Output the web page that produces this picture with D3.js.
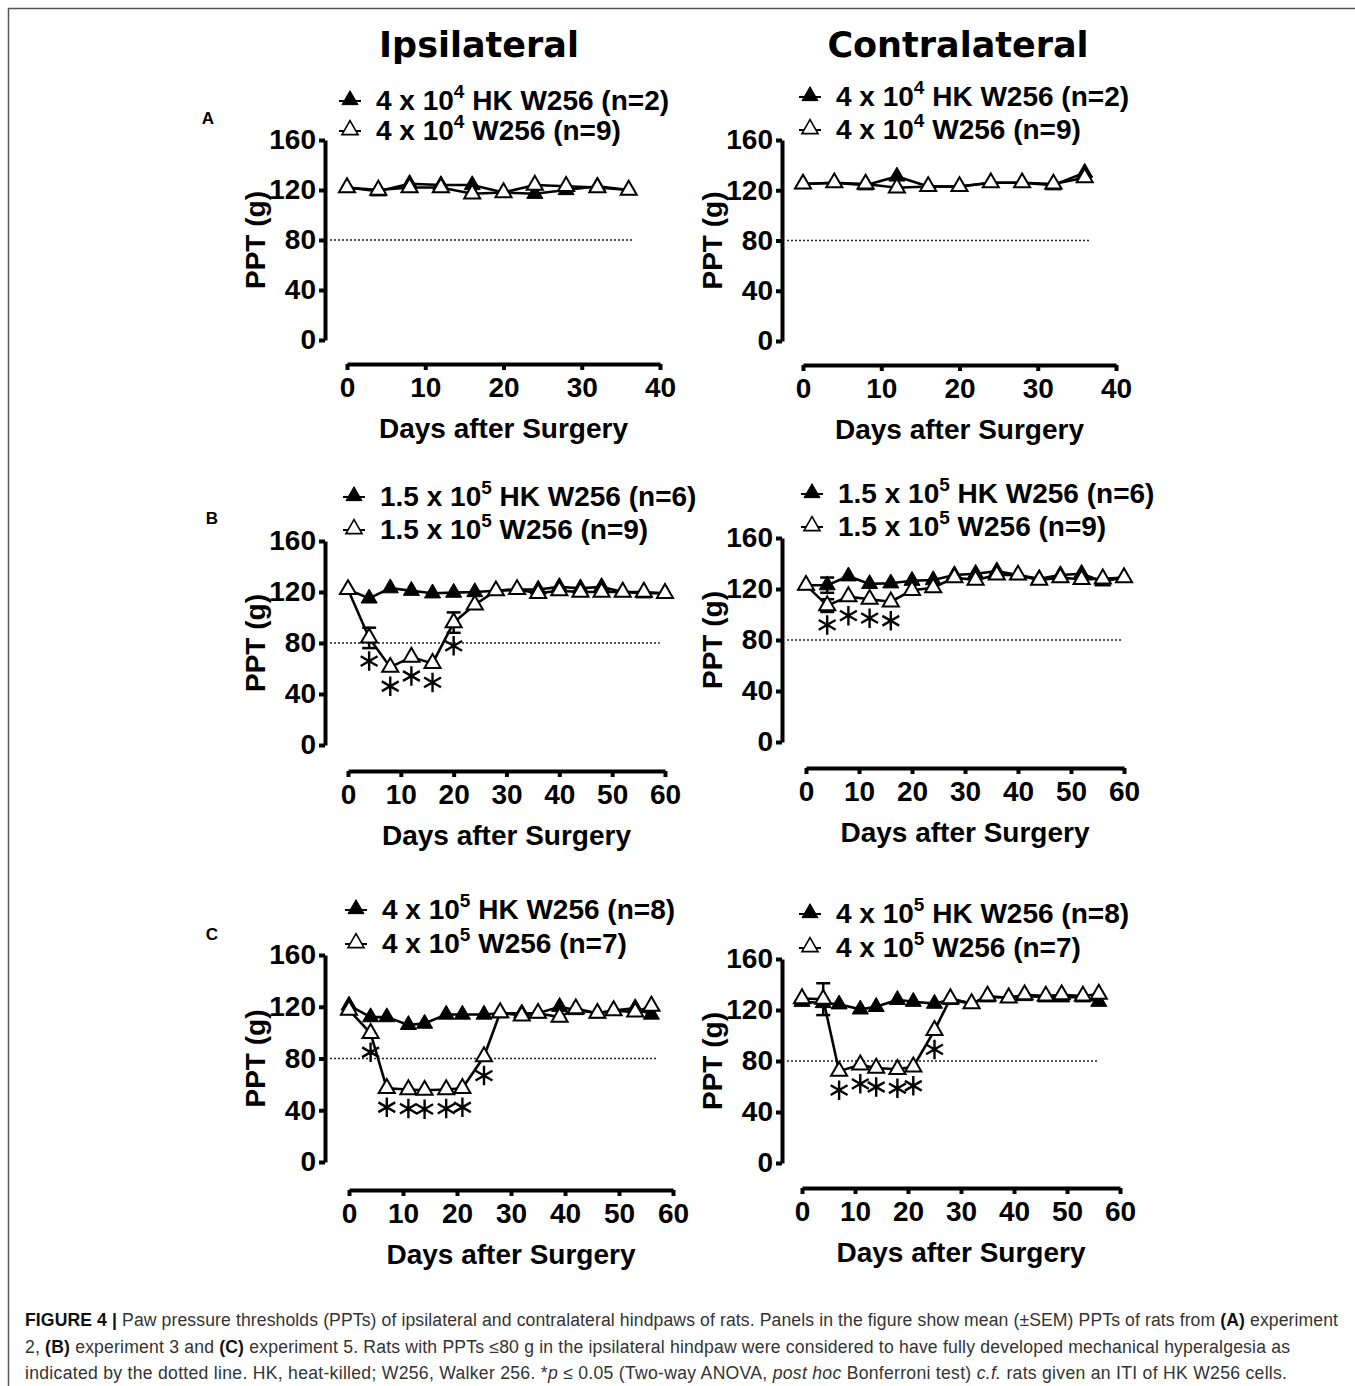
<!DOCTYPE html>
<html>
<head>
<meta charset="utf-8">
<script src="https://cdn.jsdelivr.net/npm/d3@7"></script>
<style>
  body { margin: 0; background: #fff; }
  svg { display: block; }
</style>
</head>
<body>
<svg id="fig" width="1355" height="1386"></svg>
<script>
// ---- data ----
var daysA = [0, 4, 8, 12, 16, 20, 24, 28, 32, 36];
var daysB = [0, 4, 8, 12, 16, 20, 24, 28, 32, 36, 40, 44, 48, 52, 56, 60];
var daysC = [0, 4, 7, 11, 14, 18, 21, 25, 28, 32, 35, 39, 42, 46, 49, 53, 56];

// experiment 2 (A)
var aIpsiHK = [122, 119, 125, 124, 124, 118, 117, 120, 123, 120];
var aIpsiW = [122, 120, 122, 122, 117, 118, 124, 123, 122, 120];
var aContraHK = [125, 126, 124, 131, 123, 123, 126, 126, 124, 134];
var aContraW = [125, 126, 125, 122, 123, 123, 126, 126, 125, 130];

// experiment 3 (B)
var bIpsiHK = [122, 115, 123, 121, 119, 119.5, 120, 121, 122, 122, 124, 123, 124, 120, 119, 119];
var bIpsiW = [122, 84, 61, 69, 64, 96, 110, 121, 122, 119, 121, 120, 120, 120, 120, 119];
var bIpsiWsem = [0, 8, 0, 0, 0, 8, 0, 0, 0, 0, 0, 0, 0, 0, 0, 0];
var bContraHK = [123, 123, 130, 124, 124.5, 126.5, 127, 131, 132, 134, 131, 128, 131, 132, 126, 129];
var bContraHKsem = [0, 6, 0, 0, 0, 0, 0, 0, 0, 0, 0, 0, 0, 0, 0, 0];
var bContraW = [123, 107, 114, 112, 110, 119, 121, 129, 127, 131, 131, 127, 129, 127.5, 128, 129];
var bContraWsem = [0, 5, 0, 0, 0, 0, 0, 0, 0, 0, 0, 0, 0, 0, 0, 0];

// experiment 5 (C)
var cIpsiHK = [121, 112, 112, 106, 107, 114, 114, 114, 115, 115, 115, 120, 117.5, 115, 117, 119, 114];
var cIpsiW = [117.5, 99.5, 57, 56, 55.5, 56, 57, 81.5, 115.5, 113, 115, 112, 118.5, 115, 117, 116, 120.5];
var cContraHK = [126.5, 125.5, 124.5, 120.5, 122.5, 128, 126.5, 125, 128, 125, 130, 130, 131, 130, 130, 130, 126.5];
var cContraW = [129, 128.5, 72, 77, 74.5, 73.5, 75.5, 104, 129, 125, 131, 129.5, 132, 131, 132, 131, 132.5];
var cContraWsem = [0, 12.5, 0, 0, 0, 0, 0, 0, 0, 0, 0, 0, 0, 0, 0, 0, 0];

// days marked * (p <= 0.05 vs HK)
var starsBIpsi = [4, 8, 12, 16, 20];
var starsBContra = [4, 8, 12, 16];
var starsCIpsi = [4, 7, 11, 14, 18, 21, 25];
var starsCContra = [7, 11, 14, 18, 21, 25];

var yTicks = [0, 40, 80, 120, 160];
var xTicksA = [0, 10, 20, 30, 40];
var xTicksBC = [0, 10, 20, 30, 40, 50, 60];
var threshold = 80;

var legA = [["4 x 10", "4", " HK W256 (n=2)"], ["4 x 10", "4", " W256 (n=9)"]];
var legB = [["1.5 x 10", "5", " HK W256 (n=6)"], ["1.5 x 10", "5", " W256 (n=9)"]];
var legC = [["4 x 10", "5", " HK W256 (n=8)"], ["4 x 10", "5", " W256 (n=7)"]];

var sideTitles = ["Ipsilateral", "Contralateral"];
var panelLetters = ["A", "B", "C"];

function zip(days, vals, sem) {
    return days.map(function (d, i) { return { day: d, v: vals[i], sem: sem ? sem[i] : 0 }; });
}

// ---- layout ----
var panels = [
    { days: daysA, hk: aIpsiHK, w: aIpsiW, stars: [], xDomain: [0, 40], xTicks: xTicksA, leg: legA,
      xRange: [347, 660], yRange: [340, 140], xAxisY: 364, yAxisX: 325, legX: 350, legY: [100, 130], dotEnd: 36.6 },
    { days: daysA, hk: aContraHK, w: aContraW, stars: [], xDomain: [0, 40], xTicks: xTicksA, leg: legA,
      xRange: [803, 1116], yRange: [341, 140], xAxisY: 365, yAxisX: 782, legX: 810, legY: [96, 129], dotEnd: 36.7 },
    { days: daysB, hk: bIpsiHK, w: bIpsiW, wsem: bIpsiWsem, stars: starsBIpsi, xDomain: [0, 60], xTicks: xTicksBC, leg: legB,
      xRange: [348, 665], yRange: [745, 541], xAxisY: 771, yAxisX: 325, legX: 354, legY: [496, 529], dotEnd: 59 },
    { days: daysB, hk: bContraHK, hksem: bContraHKsem, w: bContraW, wsem: bContraWsem, stars: starsBContra, xDomain: [0, 60], xTicks: xTicksBC, leg: legB,
      xRange: [806, 1124], yRange: [742, 538], xAxisY: 768, yAxisX: 782, legX: 812, legY: [493, 526], dotEnd: 59.6 },
    { days: daysC, hk: cIpsiHK, w: cIpsiW, stars: starsCIpsi, xDomain: [0, 60], xTicks: xTicksBC, leg: legC,
      xRange: [349, 673], yRange: [1162, 955], xAxisY: 1190, yAxisX: 325, legX: 356, legY: [909, 943], dotEnd: 57 },
    { days: daysC, hk: cContraHK, w: cContraW, wsem: cContraWsem, stars: starsCContra, xDomain: [0, 60], xTicks: xTicksBC, leg: legC,
      xRange: [802, 1120], yRange: [1163, 959], xAxisY: 1188, yAxisX: 782, legX: 810, legY: [913, 947], dotEnd: 55.8 }
];

var svg = d3.select("#fig");
var FONT = "'Liberation Sans', Arial, Helvetica, sans-serif";

// frame
svg.append("line").attr("x1", 8).attr("y1", 8.5).attr("x2", 1355).attr("y2", 8.5)
    .attr("stroke", "#555").attr("stroke-width", 1.5);
svg.append("line").attr("x1", 8.5).attr("y1", 8).attr("x2", 8.5).attr("y2", 1386)
    .attr("stroke", "#555").attr("stroke-width", 1.5);

// column titles
svg.selectAll(".coltitle").data(sideTitles).enter().append("text")
    .attr("class", "coltitle")
    .attr("x", function (d, i) { return i === 0 ? 479 : 958; })
    .attr("y", 57)
    .attr("text-anchor", "middle")
    .style("font-family", "'DejaVu Sans', Verdana, sans-serif")
    .style("font-weight", "bold")
    .style("font-size", "35px")
    .text(function (d) { return d; });

svg.selectAll(".letter").data(panelLetters).enter().append("text")
    .attr("class", "letter")
    .attr("x", function (d, i) { return i === 0 ? 208 : 212; })
    .attr("y", function (d, i) { return [124, 524, 940][i]; })
    .attr("text-anchor", "middle")
    .style("font-family", FONT).style("font-weight", "bold").style("font-size", "17px")
    .text(function (d) { return d; });

var triangle = d3.symbol().type(d3.symbolTriangle).size(112);
var asterisk = d3.symbol().type({
    draw: function (ctx, size) {
        var r = Math.sqrt(size) / 2, t = r / 2, u = t * Math.sqrt(3);
        ctx.moveTo(0, r); ctx.lineTo(0, -r);
        ctx.moveTo(-u, -t); ctx.lineTo(u, t);
        ctx.moveTo(-u, t); ctx.lineTo(u, -t);
    }
}).size(380);

function styleAxis(ax) {
    ax.select(".domain").attr("stroke", "#000").attr("stroke-width", 4);
    ax.selectAll(".tick line").attr("stroke", "#000").attr("stroke-width", 4);
    ax.selectAll(".tick text")
        .style("font-family", FONT).style("font-weight", "bold").style("font-size", "28px")
        .attr("fill", "#000");
}

function drawSeries(g, x, y, data, filled) {
    var line = d3.line().x(function (d) { return x(d.day); }).y(function (d) { return y(d.v); });
    g.append("path").datum(data).attr("d", line)
        .attr("fill", "none").attr("stroke", "#000").attr("stroke-width", 2.6);

    var err = data.filter(function (d) { return d.sem > 0; });
    var eb = g.selectAll(null).data(err).enter().append("g");
    eb.append("line")
        .attr("x1", function (d) { return x(d.day); }).attr("x2", function (d) { return x(d.day); })
        .attr("y1", function (d) { return y(d.v - d.sem); }).attr("y2", function (d) { return y(d.v + d.sem); })
        .attr("stroke", "#000").attr("stroke-width", 2.5);
    [-1, 1].forEach(function (s) {
        eb.append("line")
            .attr("x1", function (d) { return x(d.day) - 7; }).attr("x2", function (d) { return x(d.day) + 7; })
            .attr("y1", function (d) { return y(d.v + s * d.sem); }).attr("y2", function (d) { return y(d.v + s * d.sem); })
            .attr("stroke", "#000").attr("stroke-width", 2.5);
    });

    g.selectAll(null).data(data).enter().append("path")
        .attr("d", triangle)
        .attr("transform", function (d) { return "translate(" + x(d.day) + "," + y(d.v) + ")"; })
        .attr("fill", filled ? "#000" : "#fff")
        .attr("stroke", "#000").attr("stroke-width", filled ? 1 : 2);
}

function legendRow(g, p, row, filled) {
    var cy = p.legY[row];
    g.append("line").attr("x1", p.legX - 11).attr("x2", p.legX + 11)
        .attr("y1", cy + 1).attr("y2", cy + 1)
        .attr("stroke", "#000").attr("stroke-width", 2);
    g.append("path").attr("d", triangle)
        .attr("transform", "translate(" + p.legX + "," + cy + ")")
        .attr("fill", filled ? "#000" : "#fff")
        .attr("stroke", "#000").attr("stroke-width", filled ? 1 : 1.6);
    var parts = p.leg[row];
    var t = g.append("text").attr("x", p.legX + 26).attr("y", cy + 10)
        .style("font-family", FONT).style("font-weight", "bold").style("font-size", "28px");
    t.append("tspan").text(parts[0]);
    t.append("tspan").attr("dy", -12).style("font-size", "19px").text(parts[1]);
    t.append("tspan").attr("dy", 12).text(parts[2]);
}

panels.forEach(function (p) {
    var x = d3.scaleLinear().domain(p.xDomain).range(p.xRange);
    var y = d3.scaleLinear().domain([0, 160]).range(p.yRange);
    var g = svg.append("g");

    var ya = g.append("g").attr("transform", "translate(" + p.yAxisX + ",0)")
        .call(d3.axisLeft(y).tickValues(yTicks).tickSize(6).tickSizeOuter(0).tickPadding(3));
    styleAxis(ya);
    var xa = g.append("g").attr("transform", "translate(0," + p.xAxisY + ")")
        .call(d3.axisBottom(x).tickValues(p.xTicks).tickSize(6).tickSizeOuter(0).tickPadding(7));
    styleAxis(xa);

    g.append("text")
        .attr("transform", "translate(" + (p.yAxisX - 70) + "," + ((p.yRange[0] + p.yRange[1]) / 2) + ") rotate(-90)")
        .attr("text-anchor", "middle").attr("dy", "0.36em")
        .style("font-family", FONT).style("font-weight", "bold").style("font-size", "28px")
        .text("PPT (g)");
    g.append("text")
        .attr("x", (p.xRange[0] + p.xRange[1]) / 2).attr("y", p.xAxisY + 74)
        .attr("text-anchor", "middle")
        .style("font-family", FONT).style("font-weight", "bold").style("font-size", "28px")
        .text("Days after Surgery");

    // dotted hyperalgesia threshold
    g.append("line")
        .attr("x1", p.yAxisX + 5).attr("x2", x(p.dotEnd))
        .attr("y1", y(threshold)).attr("y2", y(threshold))
        .attr("stroke", "#222").attr("stroke-width", 1.5).attr("stroke-dasharray", "2,2");

    drawSeries(g, x, y, zip(p.days, p.hk, p.hksem), true);
    drawSeries(g, x, y, zip(p.days, p.w, p.wsem), false);

    // significance asterisks below the open series (clear of its error bar)
    g.selectAll(null).data(p.stars).enter().append("path")
        .attr("d", asterisk)
        .attr("transform", function (d) {
            var i = p.days.indexOf(d);
            var v = p.w[i], s = p.wsem ? p.wsem[i] : 0;
            var cy = Math.max(y(v) + 19, y(v - s) + 13);
            return "translate(" + x(d) + "," + cy + ")";
        })
        .attr("fill", "none").attr("stroke", "#000").attr("stroke-width", 2.4);

    legendRow(g, p, 0, true);
    legendRow(g, p, 1, false);
});

// caption
var caption = [
    [["b", "FIGURE 4 | "], ["n", "Paw pressure thresholds (PPTs) of ipsilateral and contralateral hindpaws of rats. Panels in the figure show mean (\u00b1SEM) PPTs of rats from "], ["b", "(A)"], ["n", " experiment"]],
    [["n", "2, "], ["b", "(B)"], ["n", " experiment 3 and "], ["b", "(C)"], ["n", " experiment 5. Rats with PPTs \u226480 g in the ipsilateral hindpaw were considered to have fully developed mechanical hyperalgesia as"]],
    [["n", "indicated by the dotted line. HK, heat-killed; W256, Walker 256. *"], ["i", "p"], ["n", " \u2264 0.05 (Two-way ANOVA, "], ["i", "post hoc"], ["n", " Bonferroni test) "], ["i", "c.f."], ["n", " rats given an ITI of HK W256 cells."]]
];
var captionWidths = [1313, 1265, 1262];
caption.forEach(function (line, i) {
    var t = svg.append("text").attr("x", 25).attr("y", 1326 + i * 26.5)
        .attr("textLength", captionWidths[i]).attr("lengthAdjust", "spacing")
        .style("font-family", FONT).style("font-size", "17.6px").attr("fill", "#333");
    line.forEach(function (seg) {
        t.append("tspan")
            .style("font-weight", seg[0] === "b" ? "bold" : "normal")
            .style("font-style", seg[0] === "i" ? "italic" : "normal")
            .attr("fill", seg[0] === "b" ? "#111" : "#333")
            .text(seg[1]);
    });
});
</script>
</body>
</html>
